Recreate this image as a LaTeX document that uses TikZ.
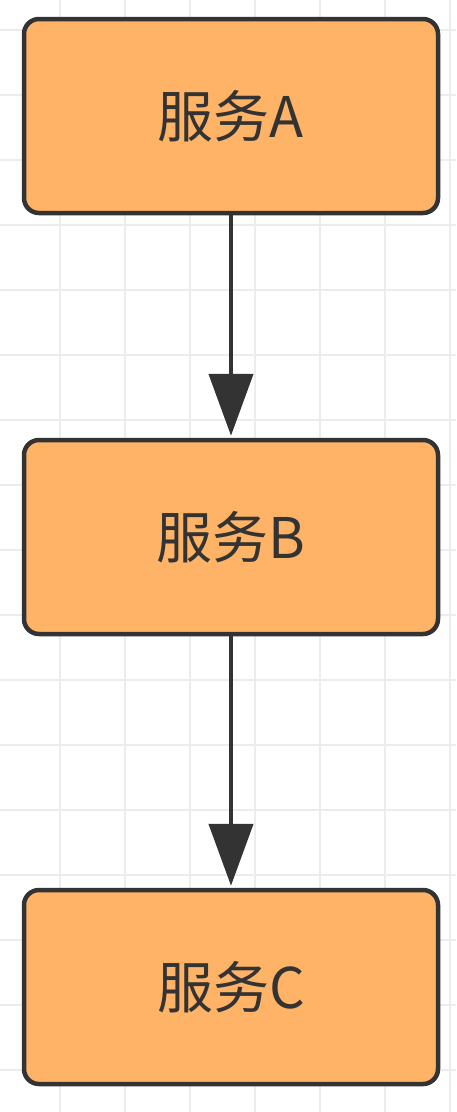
\documentclass[tikz,border=0pt]{standalone}
\usepackage{fontspec}
\newfontfamily\cjk{Noto Sans CJK SC}
\usetikzlibrary{arrows.meta}
\definecolor{boxfill}{RGB}{255,179,102}
\definecolor{boxline}{RGB}{51,51,51}
\definecolor{gridc}{RGB}{236,236,236}
\tikzset{
  svc/.style={draw=boxline, fill=boxfill, line width=4.5pt, rounded corners=15pt,
    minimum width=414pt, minimum height=194pt, inner sep=0pt,
    font=\cjk\fontsize{56}{62}\selectfont, text=boxline},
  flow/.style={draw=boxline, line width=4.5pt,
    -{Triangle[length=62pt,width=44pt]}, shorten >=2pt}
}
\begin{document}
\begin{tikzpicture}[x=1pt,y=-1pt]
\useasboundingbox (0,0) rectangle (456,1112);
\fill[white] (0,0) rectangle (456,1112);
\foreach \gx in {60,125,190,255,320,385,450}
  \draw[gridc, line width=2pt] (\gx,0) -- (\gx,1112);
\foreach \gy in {30,95,160,225,290,355,420,485,550,615,680,745,810,875,940,1005,1070}
  \draw[gridc, line width=2pt] (0,\gy) -- (456,\gy);
\node[svc] (a) at (231,116) {服务A};
\node[svc] (b) at (231,537) {服务B};
\node[svc] (c) at (231,987) {服务C};
\draw[flow] (a) -- (b);
\draw[flow] (b) -- (c);
\end{tikzpicture}
\end{document}
